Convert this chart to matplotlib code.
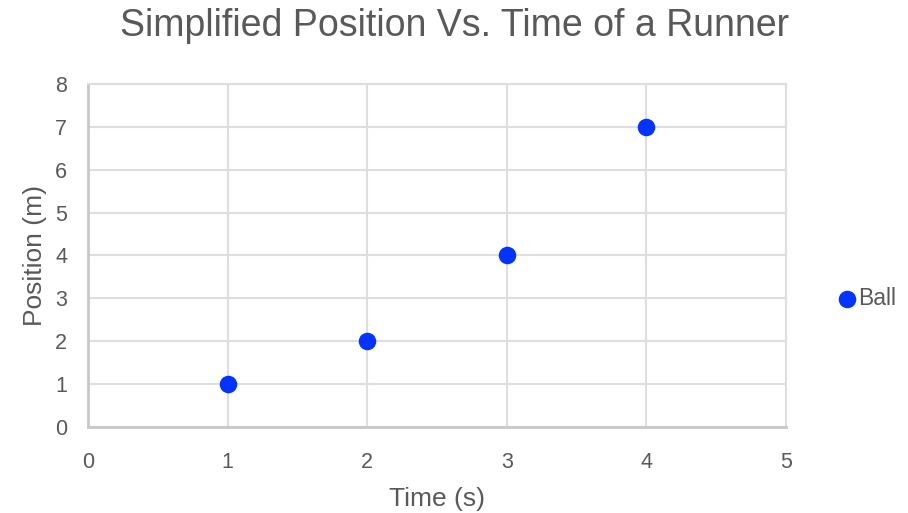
import matplotlib.pyplot as plt

plt.rcParams['font.family'] = ['Liberation Sans', 'DejaVu Sans']

time_s = [1, 2, 3, 4]
position_m = [1, 2, 4, 7]
series_name = 'Ball'

text_gray = '#595959'
grid_gray = '#dedede'
axis_gray = '#c8c8c8'
dot_blue = '#0433ff'

fig = plt.figure(figsize=(9.08, 5.13), dpi=100)
ax = fig.add_axes([0.0969, 0.1676, 0.7687, 0.6687])

ax.scatter(time_s, position_m, s=135, color=dot_blue, zorder=3,
           label=series_name, clip_on=False)

ax.set_xlim(0, 5)
ax.set_ylim(0, 8)
ax.set_xticks(range(0, 6))
ax.set_yticks(range(0, 9))
ax.grid(True, color=grid_gray, linewidth=1.5)
ax.set_axisbelow(True)

for side in ['top', 'right']:
    ax.spines[side].set_color(grid_gray)
    ax.spines[side].set_linewidth(1.5)
for side in ['left', 'bottom']:
    ax.spines[side].set_color(axis_gray)
    ax.spines[side].set_linewidth(2)

ax.tick_params(length=0, labelsize=15.5, colors=text_gray)
ax.tick_params(axis='x', pad=18)
ax.tick_params(axis='y', pad=15)

ax.set_xlabel('Time (s)', fontsize=19, color=text_gray, labelpad=10)
ax.set_ylabel('Position (m)', fontsize=19, color=text_gray, labelpad=6)
fig.suptitle('Simplified Position Vs. Time of a Runner', fontsize=27,
             color=text_gray, x=0.5, y=0.985)

leg = ax.legend(loc='center left', bbox_to_anchor=(1.054, 0.375), frameon=False,
                fontsize=16.5, handletextpad=0.0, markerscale=1.0,
                borderpad=0, handlelength=1.0)
for t in leg.get_texts():
    t.set_color(text_gray)

fig.savefig('out.png', dpi=100)
